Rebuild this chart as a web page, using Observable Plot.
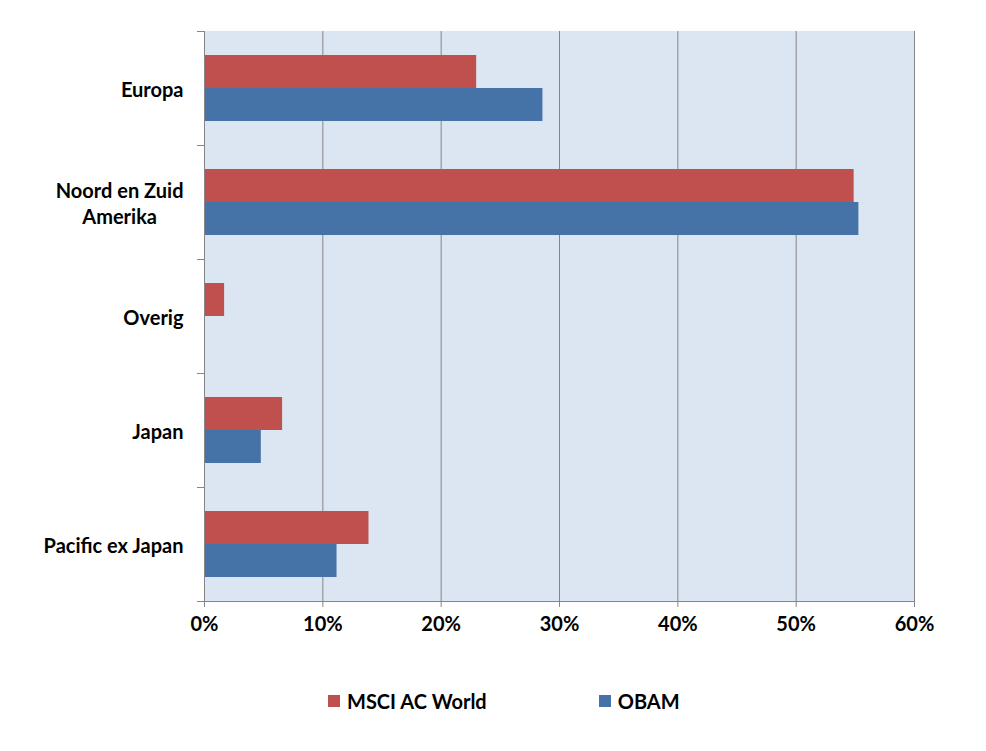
<!DOCTYPE html>
<html><head><meta charset="utf-8">
<script src="https://cdn.jsdelivr.net/npm/d3@7"></script>
<script src="https://cdn.jsdelivr.net/npm/@observablehq/plot@0.6"></script>
<style>
body{margin:0;background:#fff;font-family:Lato,"Open Sans",sans-serif;}
#chart{position:relative;width:986px;height:751px;}
#chart svg{display:block;}
.legend{position:absolute;left:328px;top:689px;display:flex;gap:112px;font-weight:bold;font-size:20px;color:#000;}
.legend .it{display:flex;align-items:center;}
.legend .sw{width:12px;height:12px;margin-right:7px;}
</style></head><body><div id="chart"></div><script>
const regions = ["Europa", "Noord en Zuid\nAmerika", "Overig", "Japan", "Pacific ex Japan"];
const series = ["MSCI AC World", "OBAM"];
const msciValues = [23.0, 54.9, 1.7, 6.6, 13.9];
const obamValues = [28.6, 55.3, 0, 4.8, 11.2];
const xTicks = [0, 10, 20, 30, 40, 50, 60];
const seriesColors = ["#C0504D", "#4572A7"];

const rows = [];
regions.forEach((r, i) => {
  rows.push({region: r, series: series[0], value: msciValues[i]});
  rows.push({region: r, series: series[1], value: obamValues[i]});
});

const W = 986, H = 660, mL = 204, mR = 72, mT = 29, mB = 57;
const plotW = W - mL - mR;
const grey = "#868686";

const chart = Plot.plot({
  width: W, height: H,
  marginLeft: mL, marginRight: mR, marginTop: mT, marginBottom: mB,
  style: {fontFamily: "Lato, 'Open Sans', sans-serif", fontWeight: "bold", fontSize: "20px", color: "#000", background: "#fff"},
  fy: {domain: regions, padding: 0, axis: null, label: null},
  y: {domain: series, paddingInner: 0, paddingOuter: 0.72, axis: null, label: null},
  x: {domain: [0, 60], axis: null, label: null},
  color: {domain: series, range: seriesColors},
  marks: [
    Plot.frame({fill: "#DCE6F2", stroke: null, insetTop: -0.6, insetBottom: -0.6}),
    Plot.gridX(xTicks.slice(1), {stroke: grey, strokeOpacity: 1}),
    Plot.barX(rows, {fy: "region", y: "series", x: "value", fill: "series"}),
    Plot.ruleX([0], {stroke: grey}),
    Plot.frame({anchor: "top", stroke: grey, insetLeft: -7, insetRight: plotW}),
    Plot.frame({anchor: "bottom", facetAnchor: "bottom", stroke: grey, insetLeft: -7}),
    Plot.axisX(xTicks, {anchor: "bottom", tickSize: 6, tickPadding: 9, stroke: grey, fill: "#000", tickFormat: d => d + "%", fontSize: 20, label: null}),
    Plot.axisFy({anchor: "left", tickSize: 0, tickPadding: 21, fill: "#000", fontSize: 20, lineHeight: 1.3, label: null})
  ]
});
document.getElementById("chart").appendChild(chart);

// center multi-line category labels like the original
chart.querySelectorAll("text").forEach(t => {
  const spans = t.querySelectorAll("tspan");
  if (spans.length > 1) {
    let w = 0;
    spans.forEach(s => { w = Math.max(w, s.getComputedTextLength()); });
    t.setAttribute("text-anchor", "middle");
    const tr = t.getAttribute("transform") || "";
    t.setAttribute("transform", tr + ` translate(${-w / 2},0)`);
  }
});

const legend = document.createElement("div");
legend.className = "legend";
series.forEach((s, i) => {
  const it = document.createElement("div");
  it.className = "it";
  const sw = document.createElement("span");
  sw.className = "sw";
  sw.style.background = seriesColors[i];
  const tx = document.createElement("span");
  tx.textContent = s;
  it.appendChild(sw); it.appendChild(tx);
  legend.appendChild(it);
});
document.getElementById("chart").appendChild(legend);
</script></body></html>
